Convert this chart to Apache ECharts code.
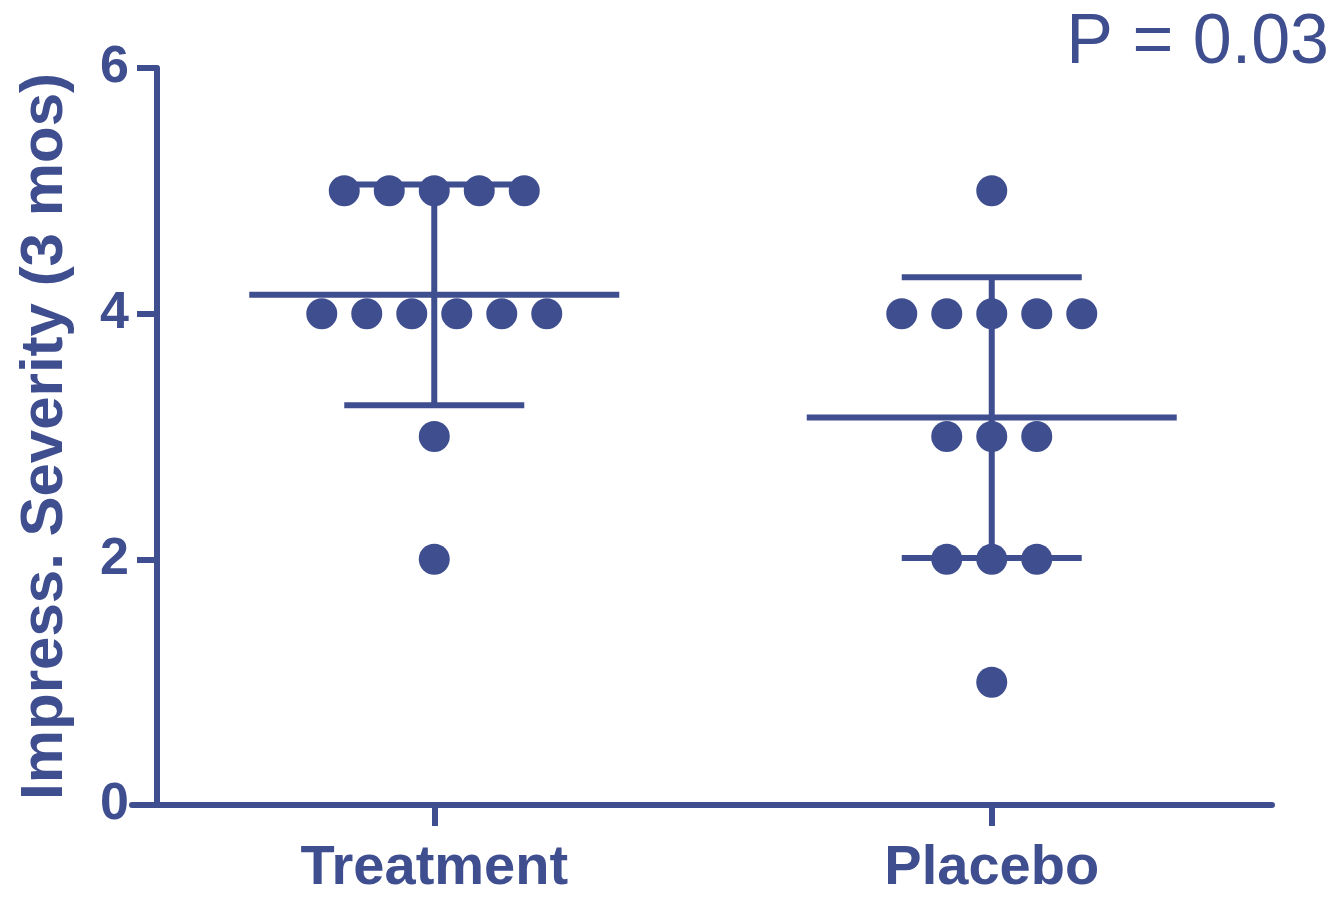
<!DOCTYPE html>
<html>
<head>
<meta charset="utf-8">
<script src="https://cdn.jsdelivr.net/npm/echarts@6/dist/echarts.min.js"></script>
<style>
  html, body { margin: 0; padding: 0; background: #ffffff; }
  #chart { width: 1342px; height: 897px; }
</style>
</head>
<body>
<div id="chart"></div>
<script>
// Group names and the individual scores in each group
const categories = ['Treatment', 'Placebo'];
const treatmentScores = [5, 5, 5, 5, 5, 4, 4, 4, 4, 4, 4, 3, 2];
const placeboScores = [5, 4, 4, 4, 4, 4, 3, 3, 3, 2, 2, 2, 1];
const yTicks = [0, 2, 4, 6];
const pValueText = 'P = 0.03';

const groups = [treatmentScores, placeboScores];
const COLOR = '#3f4e8f';
const FONT = '"Liberation Sans", Arial, Helvetica, sans-serif';
const DOT_SPACING = 45;   // px between tied points
const MEAN_HALF = 185;    // px half-width of the mean line
const CAP_HALF = 90;      // px half-width of the SD caps
const LINE_W = 6;

// Scatter points: tied values are spread side by side around the group centre
const points = [];
groups.forEach((scores, gi) => {
  const counts = {};
  scores.forEach(v => { counts[v] = (counts[v] || 0) + 1; });
  const seen = {};
  scores.forEach(v => {
    const n = counts[v];
    const i = seen[v] = (seen[v] === undefined ? 0 : seen[v] + 1);
    points.push({
      value: [gi + 1, v],
      symbolOffset: [(i - (n - 1) / 2) * DOT_SPACING, 0]
    });
  });
});

// Mean and sample standard deviation per group
const stats = groups.map((scores, gi) => {
  const n = scores.length;
  const mean = scores.reduce((a, b) => a + b, 0) / n;
  const sd = Math.sqrt(scores.reduce((a, b) => a + (b - mean) * (b - mean), 0) / (n - 1));
  return [gi + 1, mean, sd];
});

const chart = echarts.init(document.getElementById('chart'), null, { renderer: 'canvas' });

chart.setOption({
  backgroundColor: '#ffffff',
  animation: false,
  title: {
    text: pValueText,
    right: 8,
    top: 4,
    textStyle: { color: COLOR, fontFamily: FONT, fontSize: 70, fontWeight: 'normal' }
  },
  grid: { left: 132, right: 70, top: 68, bottom: 87 },
  xAxis: {
    type: 'value',
    min: 0.4578,
    max: 2.5027,
    splitLine: { show: false },
    axisLine: { show: true, lineStyle: { color: COLOR, width: LINE_W } },
    axisTick: {
      show: true, length: 21, inside: false,
      customValues: categories.map((c, i) => i + 1),
      lineStyle: { color: COLOR, width: LINE_W }
    },
    axisLabel: {
      customValues: categories.map((c, i) => i + 1),
      formatter: v => categories[Math.round(v) - 1] || '',
      color: COLOR, fontFamily: FONT, fontSize: 56, fontWeight: 'bold', margin: 36
    }
  },
  yAxis: {
    type: 'value',
    min: 0,
    max: 6,
    interval: 2,
    offset: -25,
    name: 'Impress. Severity (3 mos)',
    nameLocation: 'middle',
    nameGap: 82,
    nameTextStyle: { color: COLOR, fontFamily: FONT, fontSize: 60, fontWeight: 'bold' },
    splitLine: { show: false },
    axisLine: { show: true, lineStyle: { color: COLOR, width: LINE_W } },
    axisTick: { show: true, length: 20, inside: false, lineStyle: { color: COLOR, width: LINE_W } },
    axisLabel: {
      formatter: v => (yTicks.indexOf(v) >= 0 ? String(v) : ''),
      color: COLOR, fontFamily: FONT, fontSize: 52, fontWeight: 'bold', margin: 28
    }
  },
  series: [
    {
      type: 'custom',
      z: 2,
      data: stats,
      renderItem: (params, api) => {
        const x = api.value(0), mean = api.value(1), sd = api.value(2);
        const c = api.coord([x, mean]);
        const top = api.coord([x, mean + sd]);
        const bot = api.coord([x, mean - sd]);
        const style = { stroke: COLOR, lineWidth: LINE_W, fill: null };
        return {
          type: 'group',
          children: [
            { type: 'line', shape: { x1: c[0] - MEAN_HALF, y1: c[1], x2: c[0] + MEAN_HALF, y2: c[1] }, style },
            { type: 'line', shape: { x1: c[0], y1: top[1], x2: c[0], y2: bot[1] }, style },
            { type: 'line', shape: { x1: c[0] - CAP_HALF, y1: top[1], x2: c[0] + CAP_HALF, y2: top[1] }, style },
            { type: 'line', shape: { x1: c[0] - CAP_HALF, y1: bot[1], x2: c[0] + CAP_HALF, y2: bot[1] }, style }
          ]
        };
      }
    },
    {
      type: 'scatter',
      z: 3,
      symbol: 'circle',
      symbolSize: 31,
      itemStyle: { color: COLOR, opacity: 1 },
      data: points
    }
  ]
});
</script>
</body>
</html>
